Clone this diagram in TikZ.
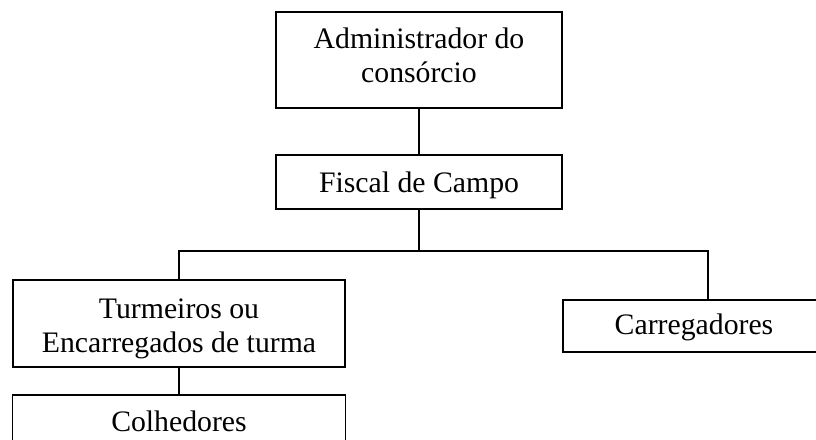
\documentclass[tikz,border=0pt]{standalone}
\usepackage{fontspec}
\setmainfont{Liberation Serif}
\begin{document}
\begin{tikzpicture}[x=1pt,y=-1pt,
  orgbox/.style={draw=black, line width=1.8pt, inner sep=0pt, align=center, anchor=north,
    font=\fontsize{29.75pt}{34pt}\selectfont},
  link/.style={draw=black, line width=1.8pt}]
\useasboundingbox (0,0) rectangle (816,439);
\node[orgbox, minimum width=286pt, text height=71pt, text depth=25pt] (adm) at (419,11) {Administrador do\\consórcio};
\node[orgbox, minimum width=286pt, text height=38pt, text depth=16pt] (fis) at (419,154) {Fiscal de Campo};
\node[orgbox, minimum width=332pt, text height=73pt, text depth=14pt] (tur) at (179,279) {Turmeiros ou\\Encarregados de turma};
\node[orgbox, minimum width=262pt, text height=35pt, text depth=17pt] (car) at (694,299) {Carregadores};
\node[orgbox, minimum width=333pt, text height=37pt, text depth=15pt] (col) at (179,394) {Colhedores};
\coordinate (jc) at (419,251);
\coordinate (jl) at (179,251);
\coordinate (jr) at (708,251);
\draw[link] (adm.south) -- (fis.north);
\draw[link] (fis.south) -- (jc);
\draw[link] (tur.north) -- (jl) -- (jr) -- (jr |- car.north);
\draw[link] (tur.south) -- (col.north);
\end{tikzpicture}
\end{document}
